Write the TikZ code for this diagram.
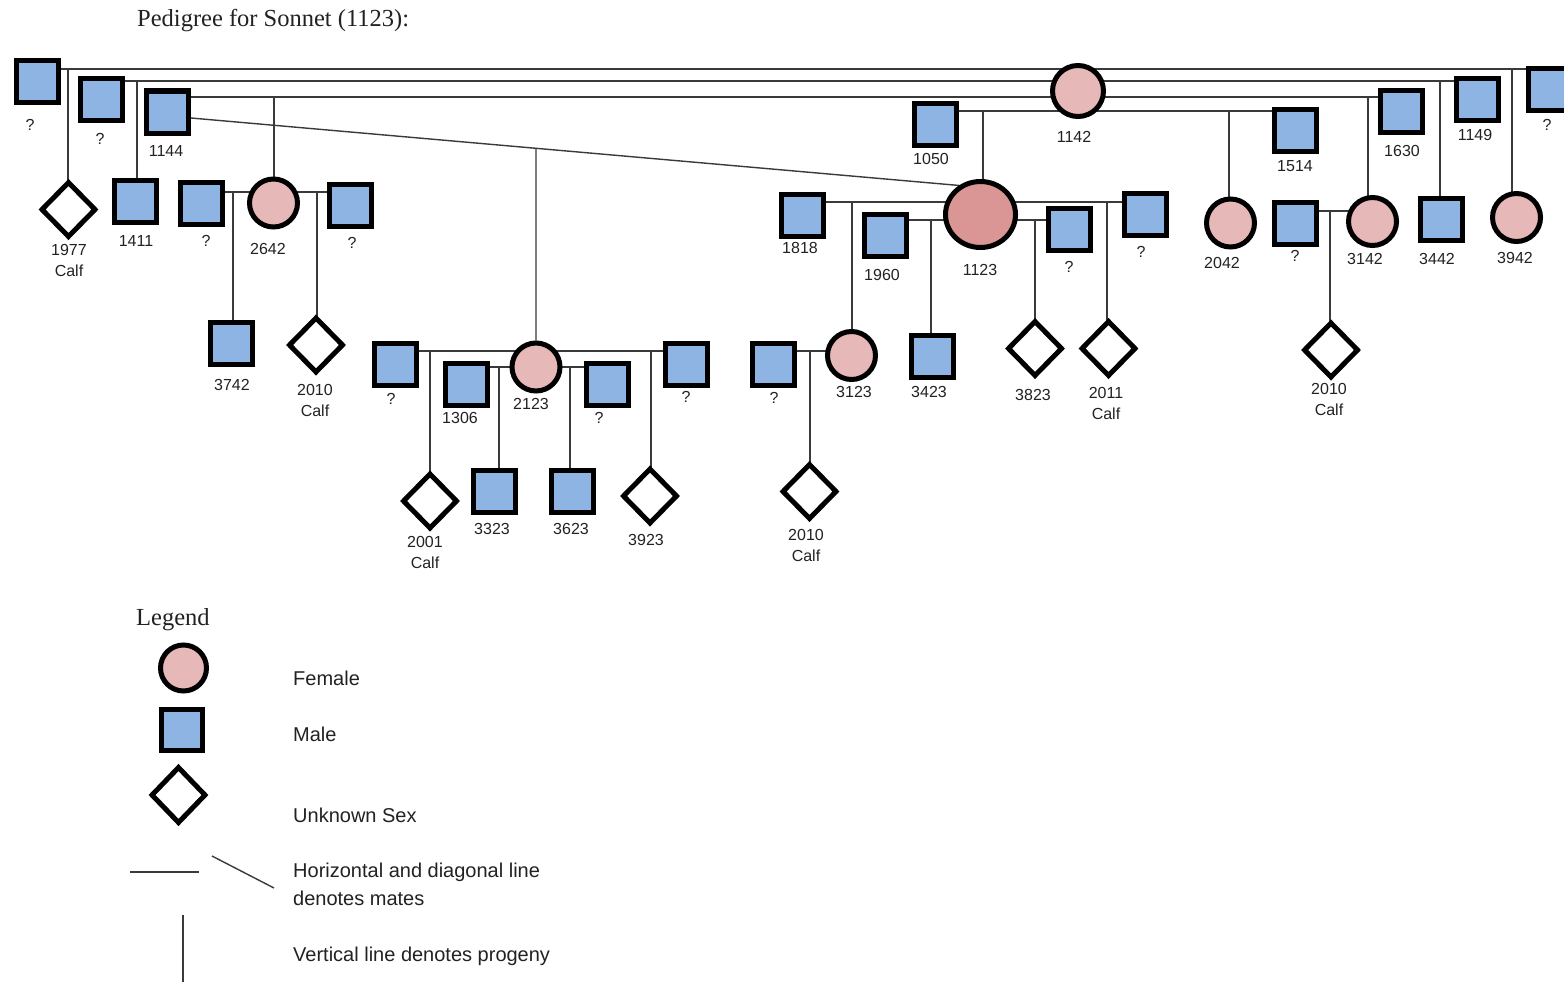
\documentclass[tikz,border=0pt]{standalone}
\usepackage{fontspec}
\setmainfont{Liberation Serif}
\setsansfont{Liberation Sans}
\usetikzlibrary{shapes.geometric,backgrounds,calc}
\definecolor{maleblue}{HTML}{8DB4E2}
\definecolor{femalepink}{HTML}{E6B8B7}
\definecolor{focuspink}{HTML}{DA9694}
\definecolor{linkgray}{HTML}{3A3A3A}
\definecolor{inkgray}{HTML}{222222}

\begin{document}
\begin{tikzpicture}[x=1pt,y=-1pt,
  male/.style={draw=black,line width=5pt,fill=maleblue,rectangle,minimum size=42pt,inner sep=0pt},
  female/.style={draw=black,line width=5pt,fill=femalepink,circle,minimum size=48pt,inner sep=0pt},
  unknown/.style={draw=black,line width=5pt,fill=white,diamond,minimum width=55pt,minimum height=56pt,inner sep=0pt},
  tag/.style={font=\sffamily\fontsize{16}{21}\selectfont,text=inkgray,align=center,inner sep=0pt},
  link/.style={draw=linkgray,line width=1.4pt},
  legendtext/.style={font=\sffamily\fontsize{20}{28}\selectfont,anchor=base west,inner sep=0pt,text=inkgray},
  heading/.style={font=\rmfamily\fontsize{24.5}{28}\selectfont,anchor=base west,inner sep=0pt,text=inkgray}]

\useasboundingbox (0,0) rectangle (1564,982);

% ---- title ----
\node[heading] (title) at (137,27) {Pedigree for Sonnet (1123):};

% ---- top row: mates of 1142 ----
\node[male] (qA) at (37,81.5) {};        \node[tag] (tqA) at (30,125) {?};
\node[male] (qB) at (101.5,99.5) {};     \node[tag] (tqB) at (100,139) {?};
\node[male] (m1144) at (167.5,112) {};   \node[tag] (t1144) at (166,151) {1144};
\node[female,minimum size=51pt] (f1142) at (1078,91) {};
\node[tag] (t1142) at (1074,137) {1142};
\node[male] (m1050) at (935,124.5) {};   \node[tag] (t1050) at (931,159) {1050};
\node[male] (m1514) at (1295.5,130) {};  \node[tag] (t1514) at (1295,166) {1514};
\node[male] (m1630) at (1401.5,111.5) {};\node[tag] (t1630) at (1402,151) {1630};
\node[male] (m1149) at (1477.5,99.5) {}; \node[tag] (t1149) at (1475,135) {1149};
\node[male] (qR) at (1549.5,89.5) {};    \node[tag] (tqR) at (1547,125) {?};

% ---- second row ----
\node[unknown] (d1977) at (68.5,209.5) {};   \node[tag] (t1977) at (69,260) {1977\\Calf};
\node[male] (m1411) at (135,201) {};         \node[tag] (t1411) at (136,241) {1411};
\node[male] (q2642L) at (201.5,203.5) {};    \node[tag] (tq2642L) at (206,241) {?};
\node[female] (f2642) at (273.5,203) {};     \node[tag] (t2642) at (268,249) {2642};
\node[male] (q2642R) at (350.5,205.5) {};    \node[tag] (tq2642R) at (352,243) {?};
\node[male] (m1818) at (802.5,215.5) {};     \node[tag] (t1818) at (800,248) {1818};
\node[male] (m1960) at (885.5,235.5) {};     \node[tag] (t1960) at (882,275) {1960};
\node[female,ellipse,fill=focuspink,minimum width=70pt,minimum height=66pt] (f1123) at (980.5,214.5) {};
\node[tag] (t1123) at (980,270) {1123};
\node[male] (q1123a) at (1069,229.5) {};     \node[tag] (tq1123a) at (1069,267) {?};
\node[male] (q1123b) at (1145.5,214.5) {};   \node[tag] (tq1123b) at (1141,252) {?};
\node[female] (f2042) at (1230.5,223) {};    \node[tag] (t2042) at (1222,263) {2042};
\node[male] (q3142) at (1295.5,223) {};      \node[tag] (tq3142) at (1295,256) {?};
\node[female] (f3142) at (1372.5,221.5) {};  \node[tag] (t3142) at (1365,259) {3142};
\node[male] (m3442) at (1441.5,219) {};      \node[tag] (t3442) at (1437,259) {3442};
\node[female] (f3942) at (1516.5,217.5) {};  \node[tag] (t3942) at (1515,258) {3942};

% ---- third row ----
\node[male] (m3742) at (231,343.5) {};       \node[tag] (t3742) at (232,385) {3742};
\node[unknown] (d2010a) at (316,345) {};     \node[tag] (t2010a) at (315,400) {2010\\Calf};
\node[male] (q2123a) at (395,364) {};        \node[tag] (tq2123a) at (391,399) {?};
\node[male] (m1306) at (466,384) {};         \node[tag] (t1306) at (460,418) {1306};
\node[female] (f2123) at (536,367) {};       \node[tag] (t2123) at (531,404) {2123};
\node[male] (q2123b) at (607.5,384) {};      \node[tag] (tq2123b) at (599,418) {?};
\node[male] (q2123c) at (686.5,364) {};      \node[tag] (tq2123c) at (686,397) {?};
\node[male] (q3123) at (773.5,364) {};       \node[tag] (tq3123) at (774,398) {?};
\node[female] (f3123) at (851.5,355.5) {};   \node[tag] (t3123) at (854,392) {3123};
\node[male] (m3423) at (932.5,356) {};       \node[tag] (t3423) at (929,392) {3423};
\node[unknown] (d3823) at (1035,348.5) {};   \node[tag] (t3823) at (1033,395) {3823};
\node[unknown] (d2011) at (1108.5,348.5) {}; \node[tag] (t2011) at (1106,403) {2011\\Calf};
\node[unknown] (d2010c) at (1331,350) {};    \node[tag] (t2010c) at (1329,399) {2010\\Calf};

% ---- fourth row ----
\node[unknown] (d2001) at (430,501) {};      \node[tag] (t2001) at (425,552) {2001\\Calf};
\node[male] (m3323) at (494.5,491) {};       \node[tag] (t3323) at (492,529) {3323};
\node[male] (m3623) at (572.5,491) {};       \node[tag] (t3623) at (571,529) {3623};
\node[unknown] (d3923) at (650,496) {};      \node[tag] (t3923) at (646,540) {3923};
\node[unknown] (d2010b) at (809.5,491.5) {}; \node[tag] (t2010b) at (806,545) {2010\\Calf};

% ---- junctions where progeny lines leave the mate lines ----
\coordinate (j1977) at (68,69);
\coordinate (j3942) at (1512,69);
\coordinate (j1411) at (137,81);
\coordinate (j3442) at (1440,81);
\coordinate (j2642) at (274,97);
\coordinate (j3142) at (1368,97);
\coordinate (j1123) at (983,111);
\coordinate (j2042) at (1229,111);
\coordinate (j3742) at (233,192);
\coordinate (j2010a) at (317,192);
\coordinate (j3123) at (852,202);
\coordinate (j2011) at (1107,202);
\coordinate (j3423) at (931,220);
\coordinate (j3823) at (1035,220);
\coordinate (j2010c) at (1330,211);
\coordinate (j2001) at (430,351);
\coordinate (j3923) at (651,351);
\coordinate (j3323) at (499,367);
\coordinate (j3623) at (570,367);
\coordinate (j2010b) at (810,351);
\coordinate (dg0) at ($(m1144.east)+(0,6)$);
\coordinate (dg1) at ($(f1123)+(-21,-29)$);
\coordinate (j2123) at (intersection of dg0--dg1 and f2123--f2123.north);

\begin{scope}[on background layer]
  \fill[white] (0,0) rectangle (1564,982);
  % mate lines of 1142
  \draw[link] (qA |- j1977) -- (qR |- j1977);
  \draw[link] (qB |- j1411) -- (m1149 |- j1411);
  \draw[link] (m1144 |- j2642) -- (m1630 |- j2642);
  \draw[link] (m1050 |- j1123) -- (m1514 |- j1123);
  \draw[link] (j1977) -- (j1977 |- d1977);
  \draw[link] (j3942) -- (j3942 |- f3942);
  \draw[link] (j1411) -- (j1411 |- m1411);
  \draw[link] (j3442) -- (j3442 |- m3442);
  \draw[link] (j2642) -- (j2642 |- f2642);
  \draw[link] (j3142) -- (j3142 |- f3142);
  \draw[link] (j1123) -- (j1123 |- f1123);
  \draw[link] (j2042) -- (j2042 |- f2042);
  % 1144 with 1123 and their offspring 2123
  \draw[link] (dg0) -- (dg1);
  \draw[link] (j2123) -- (f2123);
  % 2642
  \draw[link] (q2642L |- j3742) -- (q2642R |- j3742);
  \draw[link] (j3742) -- (j3742 |- m3742);
  \draw[link] (j2010a) -- (j2010a |- d2010a);
  % 1123
  \draw[link] (m1818 |- j3123) -- (q1123b |- j3123);
  \draw[link] (m1960 |- j3423) -- (q1123a |- j3423);
  \draw[link] (j3123) -- (j3123 |- f3123);
  \draw[link] (j2011) -- (j2011 |- d2011);
  \draw[link] (j3423) -- (j3423 |- m3423);
  \draw[link] (j3823) -- (j3823 |- d3823);
  % 3142
  \draw[link] (q3142 |- j2010c) -- (f3142 |- j2010c);
  \draw[link] (j2010c) -- (j2010c |- d2010c);
  % 2123
  \draw[link] (q2123a |- j2001) -- (q2123c |- j2001);
  \draw[link] (m1306 |- j3323) -- (q2123b |- j3323);
  \draw[link] (j2001) -- (j2001 |- d2001);
  \draw[link] (j3923) -- (j3923 |- d3923);
  \draw[link] (j3323) -- (j3323 |- m3323);
  \draw[link] (j3623) -- (j3623 |- m3623);
  % 3123
  \draw[link] (q3123 |- j2010b) -- (f3123 |- j2010b);
  \draw[link] (j2010b) -- (j2010b |- d2010b);
\end{scope}

% ---- legend ----
\node[heading] (legend) at (136,625) {Legend};
\node[female,minimum size=46pt] (lf) at (183.5,668) {};
\node[male,minimum size=41pt] (lm) at (181.5,730) {};
\node[unknown,minimum width=55pt,minimum height=57pt] (ld) at (178.5,795) {};
\node[legendtext] (lft) at (293,685) {Female};
\node[legendtext] (lmt) at (293,741) {Male};
\node[legendtext] (ldt) at (293,822) {Unknown Sex};
\node[legendtext] (lht) at (293,877) {Horizontal and diagonal line};
\node[legendtext] (lht2) at (293,905) {denotes mates};
\node[legendtext] (lvt) at (293,961) {Vertical line denotes progeny};
\draw[link] (130,872) -- (199,872);
\draw[link] (212,856) -- (274,888);
\draw[link] (183,915) -- (183,982);
\end{tikzpicture}
\end{document}
